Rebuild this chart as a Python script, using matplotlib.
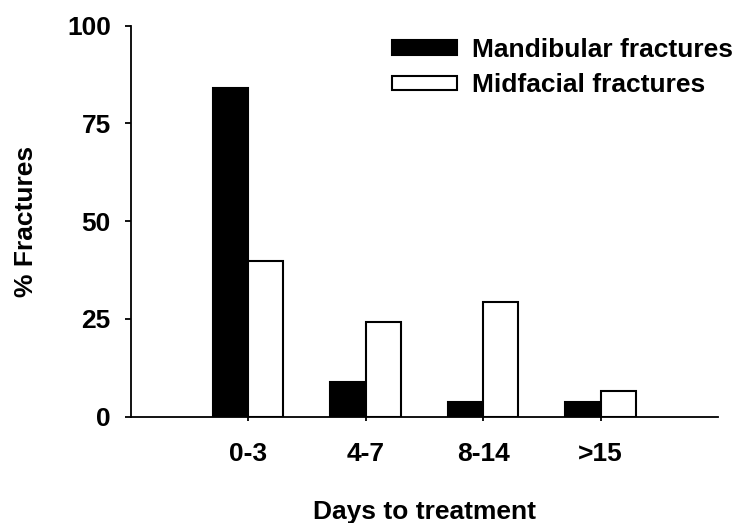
import numpy as np
import matplotlib
matplotlib.use("Agg")
import matplotlib.pyplot as plt

categories = ["0-3", "4-7", "8-14", ">15"]
mandibular = [84, 9, 3.8, 3.8]
midfacial = [39.7, 24.1, 29.4, 6.7]

plt.rcParams['font.family'] = ['Liberation Sans', 'DejaVu Sans']
plt.rcParams['font.weight'] = 'bold'

fig = plt.figure(figsize=(7.45, 5.23), dpi=100)
ax = fig.add_axes([130.7 / 745, 1 - 416.7 / 523, (718 - 130.7) / 745, (416.7 - 25.7) / 523])

x = np.arange(len(categories))
w = 0.3
ax.bar(x - w / 2, mandibular, w, color='black', edgecolor='black', linewidth=1.5,
       label='Mandibular fractures')
ax.bar(x + w / 2, midfacial, w, color='white', edgecolor='black', linewidth=1.5,
       label='Midfacial fractures')

ax.set_xlim(-1, 4)
ax.set_ylim(0, 100)
ax.set_yticks([0, 25, 50, 75, 100])
ax.set_xticks(x)
ax.set_xticklabels(categories)
ax.spines['top'].set_visible(False)
ax.spines['right'].set_visible(False)
ax.spines['left'].set_linewidth(1.3)
ax.spines['bottom'].set_linewidth(1.3)
ax.tick_params(axis='y', direction='out', length=4.3, width=1.3, labelsize=19, pad=10)
ax.tick_params(axis='x', direction='out', length=3, width=1.3, labelsize=19, pad=15)

ax.set_ylabel('% Fractures', fontsize=19, fontweight='bold', labelpad=21)
ax.set_xlabel('Days to treatment', fontsize=19, fontweight='bold', labelpad=25)

ax.legend(loc='upper left', bbox_to_anchor=(391.7 / 745, 1 - 38 / 523),
          bbox_transform=fig.transFigure, frameon=False, fontsize=19,
          handlelength=2.47, handleheight=0.48, handletextpad=0.56,
          labelspacing=0.43, borderaxespad=0, borderpad=0)

fig.savefig('out.png', dpi=100)
